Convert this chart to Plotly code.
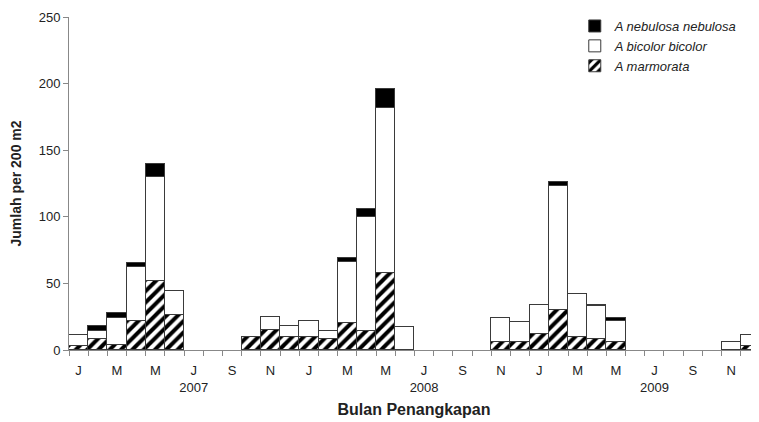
import plotly.graph_objects as go

# 36 months: Jan 2007 .. Dec 2009
months = list(range(36))
month_letters = ["J", "F", "M", "A", "M", "J", "J", "A", "S", "O", "N", "D"]
years = ["2007", "2008", "2009"]

marmorata = [3, 8, 4, 22, 52, 26, None, None, None, 10, 15, 10,
             10, 8, 20, 14, 58, None, None, None, None, None, 6, 6,
             12, 30, 10, 8, 6, None, None, None, None, None, None, 3]
bicolor = [8, 6, 20, 40, 78, 18, None, None, None, None, 10, 8,
           12, 6, 46, 86, 124, 17, None, None, None, None, 18, 15,
           22, 93, 32, 25, 16, None, None, None, None, None, 6, 8]
nebulosa = [None, 4, 4, 3, 10, None, None, None, None, None, None, None,
            None, None, 3, 6, 14, None, None, None, None, None, None, None,
            None, 3, None, 1, 2, None, None, None, None, None, None, None]

# tick labels every other month, year under July
label_vals = [m for m in months if m % 2 == 0]
label_text = []
for m in label_vals:
    t = month_letters[m % 12]
    if m % 12 == 6:
        t = t + "<br>" + years[m // 12]
    label_text.append(t)
boundary_vals = [m - 0.5 for m in months] + [35.5]

FONT = "Liberation Sans, Arial, sans-serif"
outline = "#3a3a3a"

fig = go.Figure()
fig.add_trace(go.Bar(
    x=months, y=marmorata, name="<i>A marmorata</i>",
    marker=dict(color="white", line=dict(color=outline, width=1),
                pattern=dict(shape="/", fgcolor="black", bgcolor="white",
                             size=8, solidity=0.5, fillmode="replace")),
))
fig.add_trace(go.Bar(
    x=months, y=bicolor, name="<i>A bicolor bicolor</i>",
    marker=dict(color="white", line=dict(color=outline, width=1)),
))
fig.add_trace(go.Bar(
    x=months, y=nebulosa, name="<i>A nebulosa nebulosa</i>",
    marker=dict(color="black", line=dict(color=outline, width=1)),
))
# invisible trace to carry the label axis
fig.add_trace(go.Scatter(x=[0], y=[None], xaxis="x2", showlegend=False,
                         hoverinfo="skip"))

fig.update_layout(
    width=751, height=414,
    margin=dict(l=61, r=0, t=9, b=72),
    barmode="stack", bargap=0,
    plot_bgcolor="white", paper_bgcolor="white",
    font=dict(family=FONT, size=13, color="#222"),
    showlegend=True,
    legend=dict(x=0.733, y=1.018, xanchor="left", yanchor="top",
                traceorder="reversed", bgcolor="rgba(0,0,0,0)",
                font=dict(family=FONT, size=13, color="#222"),
                itemwidth=30, tracegroupgap=0),
    xaxis=dict(range=[-0.5, 35.45], tickmode="array", tickvals=boundary_vals,
               ticktext=[""] * len(boundary_vals), ticks="outside", ticklen=5,
               tickcolor="#888", showline=True, linecolor="#888", linewidth=1,
               showgrid=False, zeroline=False, automargin=False,
               title=dict(text="<b>Bulan Penangkapan</b>",
                          font=dict(family=FONT, size=16, color="#222"),
                          standoff=46)),
    xaxis2=dict(overlaying="x", anchor="y", side="bottom", automargin=False,
                range=[-0.5, 35.45], tickmode="array", tickvals=label_vals,
                ticktext=label_text, ticks="", showline=False, showgrid=False,
                zeroline=False, tickfont=dict(family=FONT, size=13, color="#222"),
                ticklabelstandoff=11),
    yaxis=dict(range=[0, 250], tickmode="array", tickvals=[0, 50, 100, 150, 200, 250],
               ticks="outside", ticklen=5, tickcolor="#888", showline=True,
               linecolor="#888", linewidth=1, showgrid=False, zeroline=False,
               automargin=False,
               tickfont=dict(family=FONT, size=13, color="#222"),
               title=dict(text="<b>Jumlah per 200 m2</b>",
                          font=dict(family=FONT, size=14, color="#222"),
                          standoff=14)),
)

fig.write_html("out.html")
